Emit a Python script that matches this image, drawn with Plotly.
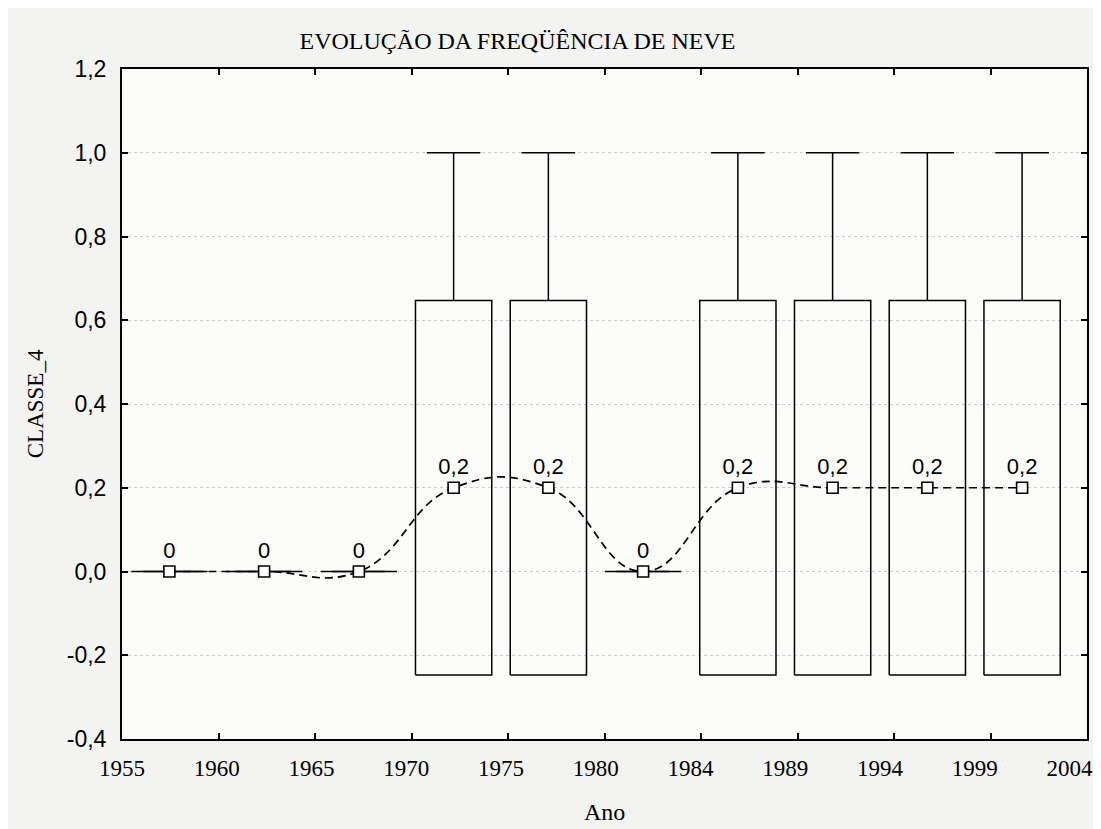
import plotly.graph_objects as go

# ---------------- data ----------------
tick_labels = ["1955", "1960", "1965", "1970", "1975", "1980",
               "1984", "1989", "1994", "1999", "2004"]
means = [0, 0, 0, 0.2, 0.2, 0, 0.2, 0.2, 0.2, 0.2]
sds = [0, 0, 0, 0.447, 0.447, 0, 0.447, 0.447, 0.447, 0.447]
maxs = [0, 0, 0, 1, 1, 0, 1, 1, 1, 1]
y_tick_vals = [-0.4, -0.2, 0.0, 0.2, 0.4, 0.6, 0.8, 1.0, 1.2]
y_tick_text = ["-0,4", "-0,2", "0,0", "0,2", "0,4", "0,6", "0,8", "1,0", "1,2"]

# ---------------- geometry / style ----------------
X_END = 10.185          # axis extends a little past the last category
BOX_W = 0.805
CAP_W = 0.565
PAPER = "#f3f4f2"
PLOT = "#fcfcfa"
SERIF = "Liberation Serif, Times New Roman, serif"
SANS = "Liberation Sans, Arial, sans-serif"

n = len(means)
centers = [i + 0.5 for i in range(n)]
label_pos = list(range(len(tick_labels)))
tickmark_pos = [k * X_END / 10 for k in range(11)]

box_x, box_y = [], []
wh_x, wh_y = [], []
for c, m, s, mx in zip(centers, means, sds, maxs):
    lo, hi = m - s, m + s
    box_x += [c - BOX_W / 2, c + BOX_W / 2, c + BOX_W / 2, c - BOX_W / 2, c - BOX_W / 2, None]
    box_y += [lo, lo, hi, hi, lo, None]
    wh_x += [c, c, None, c - CAP_W / 2, c + CAP_W / 2, None]
    wh_y += [hi, mx, None, mx, mx, None]

mean_text = ["0" if m == 0 else f"{m:.1f}".replace(".", ",") for m in means]

fig = go.Figure()
fig.add_trace(go.Scatter(x=box_x, y=box_y, mode="lines",
                         line=dict(color="black", width=1.5),
                         hoverinfo="skip", showlegend=False))
fig.add_trace(go.Scatter(x=wh_x, y=wh_y, mode="lines",
                         line=dict(color="black", width=1.5),
                         hoverinfo="skip", showlegend=False))
fig.add_trace(go.Scatter(x=centers, y=means, mode="lines",
                         line=dict(color="black", width=1.7, dash="8px,5px",
                                   shape="spline", smoothing=1.3),
                         hoverinfo="skip", showlegend=False))
fig.add_trace(go.Scatter(x=centers, y=means, mode="markers+text",
                         text=mean_text, textposition="top center",
                         textfont=dict(family=SANS, size=22, color="black"),
                         marker=dict(symbol="square", size=11, color=PLOT,
                                     line=dict(color="black", width=1.6)),
                         showlegend=False))
# carrier trace for the tick-mark axis
fig.add_trace(go.Scatter(x=centers, y=means, xaxis="x2", mode="markers",
                         marker=dict(opacity=0), hoverinfo="skip", showlegend=False))

fig.update_layout(
    width=1093, height=821,
    margin=dict(l=114, r=8, t=61, b=90),
    paper_bgcolor=PAPER, plot_bgcolor=PLOT,
    title=dict(text="EVOLUÇÃO DA FREQÜÊNCIA DE NEVE",
               font=dict(family=SERIF, size=24, color="black"),
               x=509.5 / 1093, xref="container", xanchor="center",
               y=1 - 32.5 / 821, yref="container", yanchor="middle"),
    xaxis=dict(range=[0, X_END], tickmode="array", tickvals=label_pos,
               ticktext=tick_labels, ticks="", showline=False, showgrid=False,
               zeroline=False, tickfont=dict(family=SERIF, size=23, color="black"),
               ticklabelstandoff=13),
    xaxis2=dict(range=[0, X_END], overlaying="x", anchor="y", side="bottom",
                tickmode="array", tickvals=tickmark_pos, ticks="inside",
                ticklen=6, tickwidth=2, tickcolor="black",
                showticklabels=False, showline=True, linewidth=2,
                linecolor="black", mirror="ticks", showgrid=False, zeroline=False),
    yaxis=dict(range=[-0.4, 1.2], tickmode="array", tickvals=y_tick_vals,
               ticktext=y_tick_text, ticks="inside", ticklen=6, tickwidth=2,
               tickcolor="black", showline=True, linewidth=2, linecolor="black",
               mirror="ticks", showgrid=True, gridcolor="#cccccc", gridwidth=1,
               griddash="dot", zeroline=False,
               tickfont=dict(family=SANS, size=23, color="black"),
               ticklabelstandoff=9),
    annotations=[
        dict(text="CLASSE_4", xref="paper", yref="paper",
             x=(27 - 114.3) / 971, y=0.5, xanchor="center", yanchor="middle",
             textangle=-90, showarrow=False,
             font=dict(family=SERIF, size=23, color="black")),
        dict(text="Ano", xref="paper", yref="paper",
             x=0.5, y=(731 - 803.5) / 669.7, xanchor="center", yanchor="middle",
             showarrow=False, font=dict(family=SERIF, size=24, color="black")),
    ],
)

fig.write_html("out.html", config={"displayModeBar": False})
